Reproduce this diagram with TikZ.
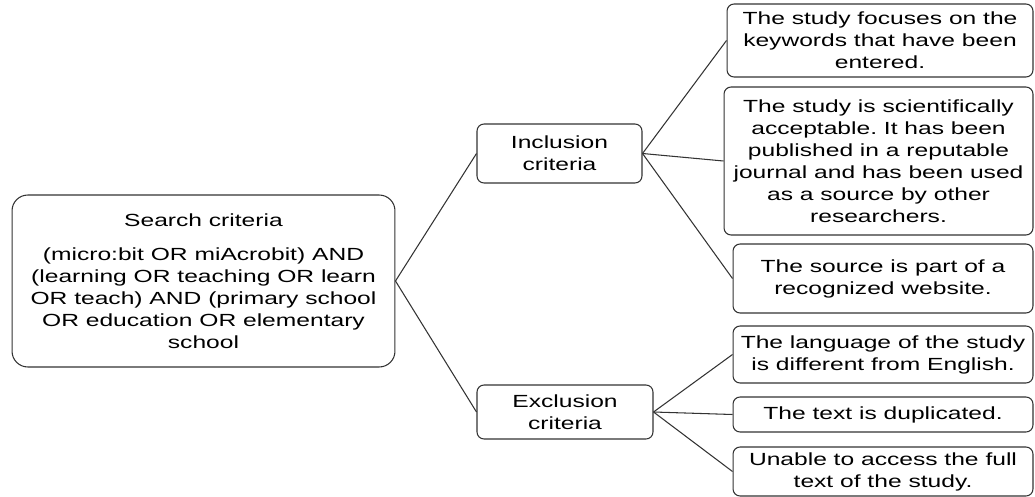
\documentclass[tikz,border=0pt]{standalone}
\usepackage{fontspec}
\setmainfont{Liberation Sans}[FakeStretch=1.4]
\frenchspacing
\begin{document}
\begin{tikzpicture}[x=0.02cm, y=-0.02cm,
  caja/.style={draw=black!80, line width=0.6pt, rounded corners=4pt, align=center,
    inner sep=0pt, font=\fontsize{10}{12.5}\selectfont},
  linea/.style={draw=black!80, line width=0.6pt}]
\useasboundingbox (0,0) rectangle (1035,497);

% Caja de la busqueda
\node[caja, rounded corners=9pt, minimum width=7.66cm, minimum height=3.44cm] (busqueda) at (203.5,281)
  {Search criteria\\[7pt](micro:bit OR miAcrobit) AND\\(learning OR teaching OR learn\\OR teach) AND (primary school\\OR education OR elementary\\school};

% Criterios
\node[caja, minimum width=3.3cm, minimum height=1.18cm] (inclusion) at (559.5,153.5) {Inclusion\\criteria};
\node[caja, minimum width=3.52cm, minimum height=1.08cm] (exclusion) at (565,412) {Exclusion\\criteria};

% Criterios de inclusion
\node[caja, minimum width=6.12cm, minimum height=1.46cm] (inc1) at (880,40.5)
  {The study focuses on the\\keywords that have been\\entered.};
\node[caja, minimum width=6.18cm, minimum height=2.96cm] (inc2) at (878.5,161)
  {The study is scientifically\\acceptable. It has been\\published in a reputable\\journal and has been used\\as a source by other\\researchers.};
\node[caja, minimum width=6cm, minimum height=1.38cm] (inc3) at (883,278.5)
  {The source is part of a\\recognized website.};

% Criterios de exclusion
\node[caja, minimum width=6cm, minimum height=1.14cm] (exc1) at (883,354.5)
  {The language of the study\\is different from English.};
\node[caja, minimum width=6cm, minimum height=0.7cm] (exc2) at (883,414.5)
  {The text is duplicated.};
\node[caja, minimum width=6cm, minimum height=0.98cm] (exc3) at (883,471.5)
  {Unable to access the full\\text of the study.};

% Lineas
\draw[linea] (busqueda.east) -- (inclusion.west);
\draw[linea] (busqueda.east) -- (exclusion.west);
\draw[linea] (inclusion.east) -- (inc1.west);
\draw[linea] (inclusion.east) -- (inc2.west);
\draw[linea] (inclusion.east) -- (inc3.west);
\draw[linea] (exclusion.east) -- (exc1.west);
\draw[linea] (exclusion.east) -- (exc2.west);
\draw[linea] (exclusion.east) -- (exc3.west);
\end{tikzpicture}
\end{document}
